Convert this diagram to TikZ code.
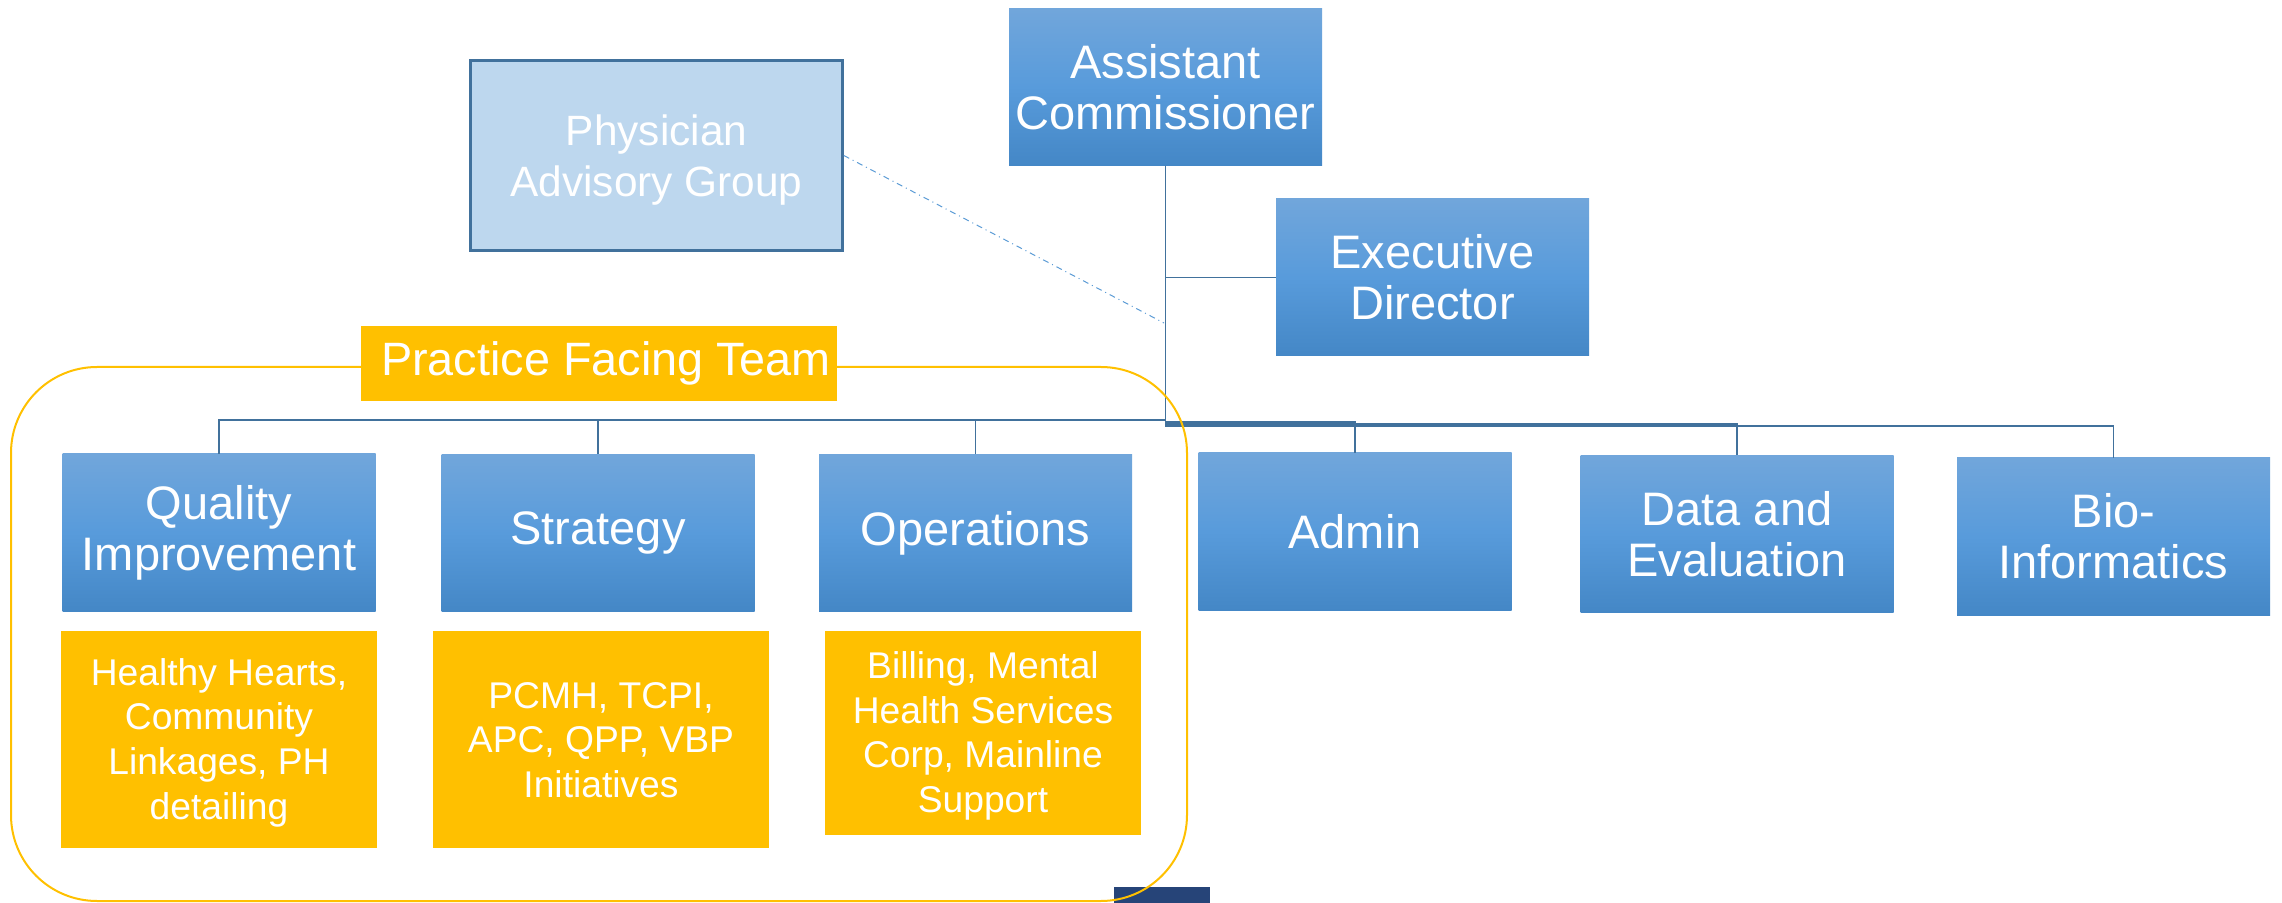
\documentclass[tikz,border=0pt]{standalone}
\usepackage{fontspec}
\setmainfont{Liberation Sans}
\definecolor{unittop}{RGB}{113,166,219}
\definecolor{unitmid}{RGB}{88,155,219}
\definecolor{unitbot}{RGB}{68,135,198}
\definecolor{advfill}{RGB}{189,215,238}
\definecolor{linkblue}{RGB}{65,113,156}
\definecolor{dashblue}{RGB}{91,155,213}
\definecolor{teamgold}{RGB}{255,192,0}
\definecolor{navyblock}{RGB}{38,68,120}
\newcommand\detailstrut{\rule[-3.2pt]{0pt}{19.7pt}}
\newcommand\advstrut{\rule[-3.8pt]{0pt}{23.8pt}}

\begin{document}
\begin{tikzpicture}[x = 0.5pt, y = -0.5pt,
    unit/.style = {shape = rectangle, top color = unittop, bottom color = unitbot, middle color = unitmid,
        text = white, align = center, inner sep = 0pt, minimum width = 156.5pt, minimum height = 78.5pt,
        font = \fontsize{23.5}{25.5}\selectfont},
    detail/.style = {shape = rectangle, fill = teamgold, text = white, align = center, inner sep = 0pt,
        minimum width = 158pt, minimum height = 108.5pt, font = \fontsize{18.6}{22.3}\selectfont},
    orgline/.style = {draw = linkblue, line width = 0.8pt},
    advline/.style = {draw = dashblue, line width = 0.5pt, dash dot}]
    \useasboundingbox (0,0) rectangle (2282,903);

    \node[unit] (asscomm) at (1165.5,87) {Assistant\\Commissioner};
    \node[unit] (execdir) at (1432.5,277.5) {Executive\\Director};
    \node[shape = rectangle, fill = advfill, draw = linkblue, line width = 1.3pt, text = white, align = center,
        minimum width = 186pt, minimum height = 95pt, font = \fontsize{21.2}{25.5}\selectfont]
        (physadv) at (656.5,155.5) {\advstrut Physician\\Advisory Group\advstrut};

    \node[unit] (quality) at (219,532.5) {Quality\\Improvement};
    \node[unit] (strategy) at (598,533) {Strategy};
    \node[unit] (operations) at (975.5,533) {Operations};
    \node[unit] (admin) at (1355,531.5) {Admin};
    \node[unit] (dataeval) at (1737,534) {Data and\\Evaluation};
    \node[unit] (bioinf) at (2113.5,536.5) {Bio-\\Informatics};

    \node[detail] (qidetail) at (219,739.5)
        {\detailstrut Healthy Hearts,\\Community\\Linkages, PH\\detailing\detailstrut};
    \node[detail, minimum width = 168pt] (stratdetail) at (601,739.5)
        {\detailstrut PCMH, TCPI,\\APC, QPP, VBP\\Initiatives\detailstrut};
    \node[detail, minimum height = 102pt] (opsdetail) at (983,733)
        {\detailstrut Billing, Mental\\Health Services\\Corp, Mainline\\Support\detailstrut};

    \foreach \n in {quality, strategy, operations}
        \draw[orgline] (asscomm.south) -- ++(0,254) -| (\n.north);
    \foreach \n/\d in {admin/256, dataeval/258, bioinf/260}
        \draw[orgline] (asscomm.south) -- ++(0,\d) -| (\n.north);
    \draw[orgline] (asscomm.south |- execdir.west) -- (execdir.west);

    \coordinate (advtap) at (1164,323);
    \draw[advline] (physadv.east) -- (advtap);

    \fill[navyblock] (1114,887) rectangle (1210,903);
    \draw[teamgold, line width = 1pt, rounded corners = 43pt] (11,367) rectangle (1187,901);
    \node[shape = rectangle, fill = teamgold, text = white, inner sep = 0pt, minimum width = 238pt,
        minimum height = 37.5pt, font = \fontsize{23.4}{26}\selectfont]
        (pftlabel) at (599,363.5) {\raisebox{-2pt}{\hspace*{7pt}Practice Facing Team}};
\end{tikzpicture}
\end{document}
